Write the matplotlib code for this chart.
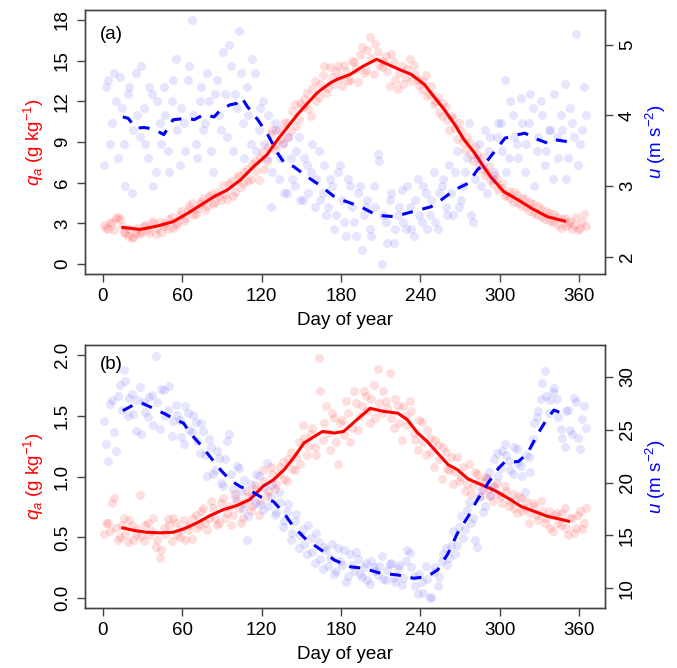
import matplotlib
matplotlib.use("Agg")
import matplotlib.pyplot as plt
import numpy as np

plt.rcParams["font.family"] = ["Liberation Sans", "DejaVu Sans"]
plt.rcParams["mathtext.fontset"] = "custom"
plt.rcParams["mathtext.rm"] = "Liberation Sans"
plt.rcParams["mathtext.it"] = "Liberation Sans:italic"

# daily samples shown as scatter: two interleaved sets of days
DAYS_1 = np.arange(1, 365, 3)   # 1, 4, 7, ...
DAYS_2 = np.arange(2, 366, 3)   # 2, 5, 8, ...

# ---- panel (a) ----
qa_a_pts = [
    2.9, 2.6, 3.0, 3.4, 3.3, 2.4, 2.1, 1.9, 2.3, 2.2,
    2.8, 2.5, 3.0, 2.2, 3.1, 2.8, 2.6, 3.5, 2.9, 3.6,
    3.2, 4.0, 4.5, 3.7, 4.4, 4.9, 4.3, 5.2, 4.6, 5.0,
    5.8, 4.8, 6.1, 5.3, 6.6, 6.0, 7.0, 6.3, 7.6, 6.2,
    8.3, 7.6, 9.6, 8.8, 9.9, 8.9, 10.5, 9.8, 11.8, 10.7,
    11.6, 12.6, 10.9, 13.5, 12.3, 13.9, 12.6, 14.5, 13.3, 14.6,
    13.1, 14.2, 13.6, 14.9, 13.4, 16.0, 14.3, 16.7, 14.0, 15.6,
    14.5, 15.3, 13.1, 14.9, 12.9, 14.6, 13.8, 15.1, 14.7, 13.6,
    12.8, 13.9, 12.5, 11.8, 12.3, 10.9, 11.6, 9.9, 10.8, 9.2,
    9.8, 8.4, 8.9, 7.6, 8.1, 7.0, 6.6, 7.2, 5.9, 6.3,
    5.6, 5.0, 5.4, 4.6, 5.1, 4.3, 4.8, 3.9, 4.4, 3.6,
    4.1, 3.3, 3.8, 3.1, 3.5, 2.7, 3.4, 3.0, 2.6, 3.5,
    2.7, 3.7,
]
qa_a_pts2 = [
    2.7, 3.1, 2.5, 3.5, 2.8, 2.3, 2.6, 2.0, 2.7, 2.4,
    2.9, 2.3, 3.2, 2.7, 2.4, 3.0, 3.3, 2.7, 3.0, 3.9,
    3.4, 4.3, 3.6, 4.1, 4.6, 4.0, 5.0, 4.4, 5.3, 4.7,
    5.2, 5.9, 5.0, 6.4, 5.7, 6.8, 6.1, 7.4, 6.9, 7.8,
    7.0, 8.6, 9.9, 8.4, 9.2, 10.4, 9.4, 11.3, 10.2, 11.9,
    12.2, 11.4, 13.0, 12.0, 13.3, 14.6, 13.0, 13.8, 14.2, 13.7,
    14.7, 13.5, 15.0, 14.4, 15.4, 14.1, 15.8, 15.2, 16.2, 14.7,
    15.0, 14.2, 15.5, 13.6, 14.1, 13.3, 14.4, 13.5, 14.0, 13.2,
    13.5, 12.4, 13.1, 12.0, 11.2, 11.9, 10.6, 10.9, 10.0, 10.4,
    9.0, 9.4, 8.1, 8.6, 7.3, 7.9, 6.8, 6.2, 6.6, 5.5,
    5.9, 5.2, 4.9, 5.3, 4.5, 4.9, 4.2, 4.6, 3.8, 4.3,
    3.5, 3.9, 3.2, 3.7, 2.9, 3.3, 2.8, 3.2, 2.9, 2.5,
    3.1, 2.8,
]
u_a_pts = [
    3.3, 4.5, 3.9, 4.2, 4.55, 3.6, 4.3, 2.9, 4.6, 3.7,
    4.1, 3.4, 4.3, 3.2, 3.9, 4.4, 3.5, 4.2, 4.8, 3.3,
    3.9, 4.5, 5.35, 3.6, 4.2, 3.8, 4.6, 3.5, 4.3, 4.0,
    4.9, 3.7, 4.7, 4.3, 5.2, 3.9, 4.4, 3.6, 4.6, 3.8,
    4.2, 3.4, 2.7, 3.9, 3.1, 3.6, 2.9, 3.4, 3.0, 3.7,
    2.8, 3.3, 3.2, 2.7, 3.5, 2.9, 2.6, 3.1, 2.4, 3.2,
    2.8, 2.3, 3.0, 2.5, 2.9, 2.1, 2.7, 2.4, 3.0, 3.45,
    1.9, 2.5, 2.8, 2.2, 2.6, 2.95, 2.4, 2.7, 2.3, 3.1,
    2.5, 2.9, 2.6, 3.2, 2.4, 3.0, 2.7, 3.3, 2.6, 3.5,
    2.8, 3.2, 3.9, 2.5, 3.4, 3.0, 3.8, 3.5, 3.1, 3.7,
    3.9, 4.5, 3.4, 4.0, 3.6, 4.25, 3.2, 3.9, 4.1, 3.5,
    4.2, 3.3, 3.8, 3.1, 3.7, 4.0, 4.45, 3.4, 3.9, 5.15,
    3.6, 4.4,
]
u_a_pts2 = [
    4.4, 3.6, 4.6, 3.4, 4.1, 3.0, 4.4, 3.8, 4.0, 4.7,
    3.6, 4.4, 3.0, 4.2, 3.6, 4.0, 3.2, 4.5, 3.8, 4.1,
    3.5, 4.7, 4.0, 3.4, 4.4, 3.9, 4.2, 3.2, 4.5, 3.8,
    4.3, 5.0, 3.5, 4.1, 4.6, 3.4, 4.0, 4.8, 3.5, 4.1,
    3.6, 4.0, 3.2, 3.8, 3.4, 2.9, 3.7, 3.1, 3.5, 2.8,
    3.4, 2.9, 3.6, 3.1, 2.8, 3.3, 2.7, 3.0, 2.6, 3.3,
    2.5, 3.1, 2.7, 2.3, 3.0, 2.6, 2.8, 2.3, 2.7, 3.35,
    2.6, 2.2, 2.9, 2.4, 2.7, 2.5, 3.0, 2.4, 2.8, 2.6,
    3.0, 2.4, 2.8, 2.5, 2.9, 3.1, 2.6, 2.9, 3.2, 2.7,
    3.0, 3.4, 2.6, 3.1, 3.6, 3.3, 2.9, 3.7, 3.2, 3.9,
    3.5, 3.2, 4.2, 3.7, 3.4, 3.9, 3.6, 4.3, 3.0, 3.7,
    4.0, 3.5, 3.8, 4.3, 3.4, 3.8, 3.1, 4.1, 3.7, 3.3,
    3.8, 4.0,
]
qa_a_line_day = [15, 28, 41, 53, 64, 74, 84, 94, 104, 114, 124, 132, 139,
                 147, 155, 162, 172, 177, 187, 197, 207, 218, 225, 233, 243,
                 250, 258, 266, 273, 281, 286, 293, 303, 314, 324, 336, 349]
qa_a_line = [2.71, 2.56, 2.81, 3.13, 3.75, 4.36, 4.98, 5.47, 6.21, 7.2, 8.06,
             9.17, 10.03, 11.02, 11.89, 12.63, 13.36, 13.61, 13.98, 14.6,
             15.09, 14.6, 14.3, 13.98, 13.24, 12.37, 11.39, 10.28, 9.17,
             8.19, 7.45, 6.46, 5.35, 4.73, 4.12, 3.5, 3.18]
u_a_line_day = [15, 19, 25, 31, 38, 46, 53, 64, 69, 76, 84, 89, 96, 101, 105,
                109, 117, 124, 132, 137, 144, 154, 165, 175, 180, 195, 207,
                220, 230, 240, 248, 256, 266, 276, 283, 291, 299, 304, 314,
                319, 326, 336, 341, 351]
u_a_line = [3.98, 3.96, 3.82, 3.83, 3.81, 3.73, 3.94, 3.96, 3.94, 4.01, 3.98,
            4.08, 4.15, 4.17, 4.25, 4.13, 3.94, 3.75, 3.47, 3.33, 3.28, 3.14,
            3.0, 2.85, 2.81, 2.71, 2.59, 2.57, 2.62, 2.67, 2.71, 2.81, 2.95,
            3.04, 3.23, 3.37, 3.56, 3.68, 3.73, 3.75, 3.68, 3.61, 3.66, 3.63]

# ---- panel (b) ----
qa_b_pts = [
    0.53, 0.62, 0.78, 0.58, 0.50, 0.66, 0.46, 0.60, 0.52, 0.85,
    0.47, 0.62, 0.55, 0.42, 0.33, 0.58, 0.65, 0.47, 0.62, 0.50,
    0.64, 0.56, 0.49, 0.68, 0.60, 0.74, 0.56, 0.80, 0.66, 0.62,
    0.82, 0.70, 0.60, 0.86, 0.74, 0.66, 0.88, 0.72, 0.93, 0.68,
    1.05, 0.84, 1.08, 0.90, 1.02, 1.12, 0.96, 1.20, 1.05, 1.28,
    1.42, 1.18, 1.35, 1.24, 1.97, 1.30, 1.58, 1.22, 1.48, 1.10,
    1.46, 1.62, 1.28, 1.70, 1.38, 1.58, 1.66, 1.44, 1.75, 1.88,
    1.52, 1.62, 1.85, 1.40, 1.58, 1.30, 1.50, 1.62, 1.36, 1.22,
    1.45, 1.18, 1.32, 1.08, 1.26, 0.98, 1.20, 1.05, 0.94, 1.16,
    1.00, 0.88, 1.10, 0.92, 1.02, 0.84, 1.00, 0.90, 0.80, 0.95,
    0.84, 0.92, 0.76, 0.86, 0.70, 0.82, 0.74, 0.62, 0.78, 0.68,
    0.80, 0.62, 0.72, 0.55, 0.70, 0.60, 0.74, 0.52, 0.66, 0.58,
    0.72, 0.62,
]
qa_b_pts2 = [
    0.62, 0.55, 0.82, 0.48, 0.60, 0.53, 0.64, 0.48, 0.57, 0.51,
    0.60, 0.52, 0.66, 0.48, 0.40, 0.53, 0.60, 0.66, 0.52, 0.57,
    0.48, 0.60, 0.66, 0.58, 0.72, 0.62, 0.66, 0.74, 0.60, 0.78,
    0.66, 0.76, 0.68, 0.80, 0.62, 0.78, 0.84, 0.76, 0.90, 0.80,
    0.96, 0.88, 1.02, 0.94, 1.08, 0.98, 1.14, 1.06, 1.16, 1.10,
    1.32, 1.25, 1.40, 1.18, 1.70, 1.44, 1.36, 1.52, 1.28, 1.44,
    1.34, 1.52, 1.40, 1.60, 1.50, 1.70, 1.54, 1.64, 1.48, 1.60,
    1.70, 1.56, 1.48, 1.64, 1.44, 1.58, 1.42, 1.54, 1.30, 1.46,
    1.28, 1.38, 1.20, 1.30, 1.14, 1.24, 1.06, 1.16, 1.04, 0.96,
    1.08, 0.94, 0.86, 1.04, 0.96, 0.90, 0.98, 0.84, 0.92, 0.86,
    0.78, 0.88, 0.80, 0.74, 0.84, 0.72, 0.80, 0.70, 0.76, 0.64,
    0.72, 0.66, 0.58, 0.68, 0.62, 0.70, 0.58, 0.66, 0.54, 0.68,
    0.57, 0.74,
]
u_b_pts = [
    25.8, 22.0, 27.8, 23.0, 29.2, 30.6, 26.3, 28.4, 24.9, 29.0,
    27.6, 26.2, 28.3, 32.0, 25.1, 28.7, 26.9, 24.4, 27.3, 25.9,
    23.6, 26.6, 24.8, 25.7, 22.8, 24.9, 20.6, 23.4, 21.2, 22.3,
    19.7, 23.9, 20.8, 18.5, 21.4, 17.5, 14.6, 19.9, 18.1, 20.6,
    17.4, 21.8, 18.6, 16.9, 19.1, 15.8, 17.2, 14.6, 16.4, 13.8,
    15.6, 13.2, 14.8, 12.4, 14.4, 11.8, 13.6, 12.9, 11.4, 13.8,
    12.2, 10.6, 13.2, 11.6, 12.8, 11.1, 12.4, 10.4, 12.0, 11.3,
    13.1, 10.8, 12.3, 11.0, 11.9, 10.3, 12.6, 13.3, 11.2, 9.5,
    10.6, 12.1, 9.1, 11.5, 10.2, 12.6, 13.8, 12.9, 15.4, 14.1,
    16.8, 15.6, 18.2, 16.6, 13.9, 19.3, 17.8, 21.0, 19.6, 22.8,
    21.4, 23.6, 22.0, 20.8, 23.2, 21.6, 19.1, 22.4, 24.1, 26.2,
    27.9, 30.5, 26.6, 28.6, 27.9, 25.1, 23.4, 26.9, 24.6, 27.6,
    23.2, 27.2,
]
u_b_pts2 = [
    23.6, 27.4, 24.8, 28.2, 26.9, 29.6, 28.0, 26.5, 27.8, 24.6,
    26.7, 28.1, 25.4, 27.6, 28.8, 26.3, 29.1, 25.8, 26.4, 24.3,
    27.2, 25.0, 26.4, 23.9, 25.6, 22.6, 24.1, 20.8, 23.0, 20.0,
    22.2, 24.6, 19.4, 21.6, 19.2, 20.2, 16.8, 18.6, 20.8, 18.0,
    19.6, 17.8, 19.8, 17.2, 18.2, 16.4, 18.0, 15.2, 17.0, 15.0,
    14.2, 16.0, 13.4, 15.2, 12.8, 13.9, 12.1, 14.2, 11.6, 12.6,
    13.6, 11.2, 12.2, 13.4, 11.4, 12.0, 10.8, 12.6, 11.6, 12.1,
    10.9, 11.7, 12.4, 10.6, 12.2, 11.0, 13.6, 12.0, 10.2, 11.4,
    9.6, 10.9, 9.2, 12.0, 11.1, 13.2, 12.2, 14.0, 13.2, 15.8,
    14.8, 17.4, 16.2, 14.6, 18.6, 17.2, 20.4, 18.8, 22.2, 20.6,
    23.0, 22.6, 21.2, 23.4, 21.8, 20.6, 22.6, 21.0, 25.6, 26.8,
    29.4, 28.2, 27.8, 28.9, 26.2, 24.2, 26.8, 25.0, 28.0, 24.2,
    26.0, 25.2,
]
qa_b_line_day = [15, 23, 33, 43, 53, 61, 71, 81, 91, 101, 111, 121, 129, 137,
                 144, 152, 160, 166, 175, 182, 192, 202, 212, 223, 230, 238,
                 245, 253, 261, 268, 276, 286, 296, 306, 316, 326, 336, 347,
                 352]
qa_b_line = [0.578, 0.558, 0.542, 0.537, 0.542, 0.57, 0.619, 0.679, 0.728,
             0.761, 0.81, 0.919, 0.974, 1.056, 1.152, 1.275, 1.33, 1.37,
             1.357, 1.37, 1.467, 1.56, 1.535, 1.52, 1.467, 1.357, 1.289,
             1.193, 1.097, 1.056, 0.98, 0.933, 0.886, 0.824, 0.755, 0.714,
             0.673, 0.646, 0.632]
u_b_line_day = [15, 23, 29, 38, 46, 53, 61, 66, 74, 81, 89, 96, 104, 111, 119,
                129, 137, 144, 154, 165, 175, 187, 197, 210, 223, 235, 245,
                253, 261, 268, 276, 283, 291, 299, 304, 314, 321, 329, 336,
                341, 347]
u_b_line = [26.79, 27.33, 27.54, 27.01, 26.54, 26.07, 25.6, 24.65, 23.54,
            22.44, 21.18, 20.24, 19.6, 19.29, 18.66, 18.19, 17.09, 15.82,
            14.57, 13.62, 12.67, 12.04, 11.89, 11.42, 11.26, 10.95, 11.1,
            11.73, 13.31, 15.2, 16.77, 18.35, 19.92, 21.34, 21.97, 21.97,
            22.76, 24.65, 26.07, 26.85, 26.54]

X_TICKS = [0, 60, 120, 180, 240, 300, 360]
FS = 13.5
SPINE = "#444444"


def _style(ax):
    for s in ax.spines.values():
        s.set_color(SPINE)
        s.set_linewidth(1.0)
    ax.tick_params(length=6, width=1.0, color=SPINE, labelsize=FS, pad=4)


def draw_panel(fig, rect, tag, tag_y, qa_sets, u_sets, qa_day, qa_line,
               u_day, u_line, qa_lim, u_lim, qa_ticks, u_ticks, qa_labels):
    ax = fig.add_axes(rect)
    for days, vals in qa_sets:
        ax.scatter(days, vals, s=42, color="red", alpha=0.13, linewidths=0)
    ax.plot(qa_day, qa_line, color="red", lw=2.2)
    ax.set_xlim(-13.6, 379.6)
    ax.set_ylim(*qa_lim)
    ax.set_xticks(X_TICKS)
    ax.set_yticks(qa_ticks)
    ax.set_yticklabels(qa_labels, rotation=90, va="center")
    ax.set_xlabel("Day of year", fontsize=FS, labelpad=5)
    ax.set_ylabel(r"$q_a$ (g kg$^{-1}$)", color="red", fontsize=FS,
                  labelpad=6)
    ax.text(0.05, tag_y, tag, transform=ax.transAxes, fontsize=FS,
            ha="center", va="center")
    _style(ax)

    ax2 = ax.twinx()
    for days, vals in u_sets:
        ax2.scatter(days, vals, s=42, color="blue", alpha=0.10, linewidths=0)
    ax2.plot(u_day, u_line, color="blue", lw=2.2, dashes=(3.6, 3.2))
    ax2.set_ylim(*u_lim)
    ax2.set_yticks(u_ticks)
    ax2.set_yticklabels([str(t) for t in u_ticks], rotation=90, va="center")
    ax2.set_ylabel(r"$u$ (m s$^{-2}$)", color="blue", fontsize=FS,
                   labelpad=6)
    _style(ax2)
    return ax, ax2


def main():
    fig = plt.figure(figsize=(6.77, 6.68), dpi=100)
    draw_panel(fig, [85 / 677, 1 - 274 / 668, 520 / 677, 264 / 668],
               "(a)", 0.909,
               [(DAYS_1, qa_a_pts), (DAYS_2, qa_a_pts2)],
               [(DAYS_1, u_a_pts), (DAYS_2, u_a_pts2)],
               qa_a_line_day, qa_a_line, u_a_line_day, u_a_line,
               (-0.72, 18.72), (1.76, 5.49),
               [0, 3, 6, 9, 12, 15, 18], [2, 3, 4, 5],
               ["0", "3", "6", "9", "12", "15", "18"])
    draw_panel(fig, [85 / 677, 1 - 608 / 668, 520 / 677, 263 / 668],
               "(b)", 0.924,
               [(DAYS_1, qa_b_pts), (DAYS_2, qa_b_pts2)],
               [(DAYS_1, u_b_pts), (DAYS_2, u_b_pts2)],
               qa_b_line_day, qa_b_line, u_b_line_day, u_b_line,
               (-0.08, 2.08), (8.14, 33.0),
               [0, 0.5, 1.0, 1.5, 2.0], [10, 15, 20, 25, 30],
               ["0.0", "0.5", "1.0", "1.5", "2.0"])
    fig.savefig("out.png", dpi=100)
    plt.close(fig)


if __name__ == "__main__":
    main()
